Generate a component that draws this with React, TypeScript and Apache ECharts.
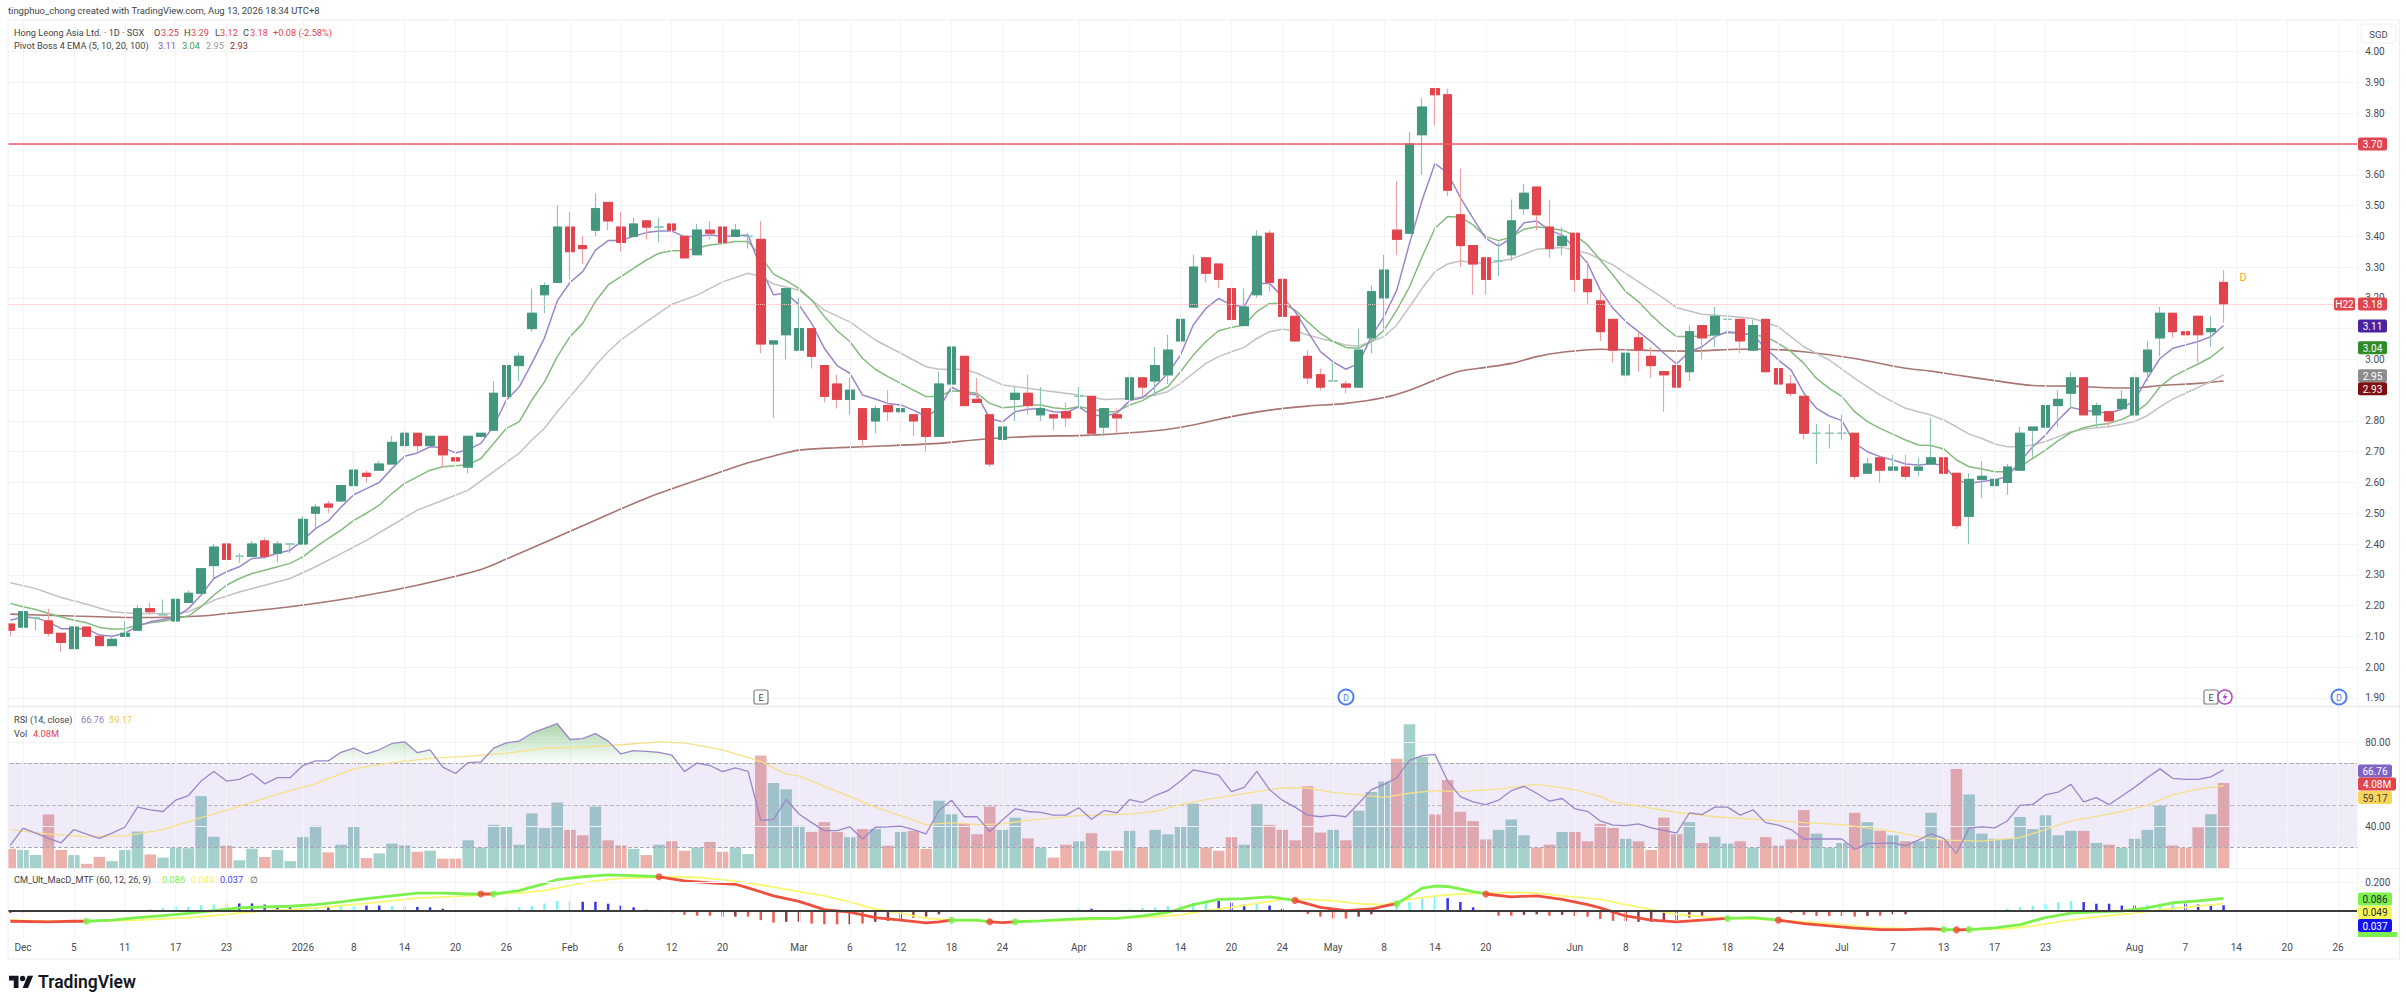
import React, { useEffect, useRef } from "react";
import * as echarts from "echarts";

const slotCount = 185;
const tickSlots = [1,5,9,13,17,23,27,31,35,39,44,48,52,56,62,66,70,74,78,84,88,92,96,100,104,108,112,116,123,127,131,135,139,144,148,152,156,160,167,171,175,179,183];
const tickLabels = ["Dec","5","11","17","23","2026","8","14","20","26","Feb","6","12","20","Mar","6","12","18","24","Apr","8","14","20","24","May","8","14","20","Jun","8","12","18","24","Jul","7","13","17","23","Aug","7","14","20","26"];

const opens = [
2.14,2.13,2.16,2.15,2.11,2.06,2.13,2.10,2.07,2.10,
2.12,2.19,2.17,2.15,2.21,2.24,2.33,2.40,2.36,2.36,
2.41,2.37,2.40,2.40,2.50,2.53,2.54,2.59,2.63,2.64,
2.66,2.72,2.76,2.72,2.75,2.68,2.65,2.75,2.77,2.88,
2.98,3.10,3.21,3.25,3.43,3.37,3.42,3.51,3.43,3.40,
3.45,3.43,3.44,3.40,3.34,3.42,3.43,3.40,3.40,3.39,
3.05,3.08,3.03,3.10,2.98,2.92,2.87,2.84,2.80,2.85,
2.83,2.82,2.84,2.75,2.92,3.01,2.87,2.82,2.74,2.87,
2.89,2.82,2.82,2.83,2.88,2.88,2.78,2.82,2.87,2.94,
2.93,2.95,3.06,3.17,3.33,3.31,3.23,3.11,3.21,3.41,
3.26,3.14,3.01,2.95,2.93,2.92,2.91,3.07,3.20,3.42,
3.41,3.73,3.88,3.86,3.47,3.37,3.33,3.32,3.34,3.49,
3.56,3.43,3.37,3.41,3.26,3.19,3.13,2.95,3.07,3.01,
2.96,2.98,2.96,3.11,3.08,3.13,3.13,3.03,3.13,2.97,
2.92,2.88,2.76,2.76,2.76,2.76,2.63,2.68,2.64,2.65,
2.64,2.66,2.68,2.63,2.49,2.61,2.59,2.60,2.64,2.77,
2.78,2.85,2.89,2.94,2.82,2.83,2.84,2.82,2.96,3.07,
3.15,3.09,3.14,3.09,3.25];
const closes = [
2.12,2.18,2.16,2.11,2.08,2.13,2.10,2.07,2.09,2.11,
2.19,2.18,2.17,2.22,2.24,2.32,2.39,2.35,2.36,2.40,
2.36,2.40,2.40,2.48,2.52,2.52,2.59,2.64,2.62,2.66,
2.73,2.76,2.72,2.75,2.69,2.67,2.75,2.76,2.89,2.98,
3.01,3.15,3.24,3.43,3.35,3.36,3.49,3.45,3.38,3.44,
3.43,3.43,3.42,3.33,3.42,3.41,3.38,3.42,3.40,3.05,
3.06,3.23,3.10,3.01,2.88,2.87,2.90,2.74,2.84,2.83,
2.84,2.80,2.75,2.92,3.04,2.85,2.86,2.66,2.78,2.89,
2.85,2.84,2.81,2.81,2.88,2.76,2.84,2.81,2.94,2.91,
2.98,3.03,3.13,3.30,3.28,3.26,3.13,3.17,3.40,3.25,
3.14,3.06,2.94,2.91,2.93,2.91,3.03,3.22,3.29,3.39,
3.70,3.82,3.86,3.55,3.37,3.31,3.26,3.32,3.45,3.54,
3.47,3.36,3.40,3.26,3.22,3.09,3.03,3.02,3.03,2.98,
2.95,2.91,3.09,3.07,3.14,3.13,3.06,3.11,2.96,2.92,
2.89,2.76,2.76,2.76,2.76,2.62,2.66,2.64,2.65,2.62,
2.65,2.68,2.63,2.46,2.61,2.62,2.61,2.65,2.76,2.78,
2.85,2.87,2.94,2.82,2.85,2.80,2.87,2.94,3.03,3.15,
3.09,3.08,3.08,3.10,3.18];
const lows = [
2.10,2.13,2.12,2.10,2.05,2.06,2.10,2.07,2.07,2.10,
2.12,2.17,2.17,2.15,2.21,2.24,2.29,2.34,2.34,2.36,
2.36,2.34,2.37,2.40,2.45,2.50,2.54,2.59,2.60,2.64,
2.66,2.68,2.70,2.72,2.65,2.66,2.63,2.75,2.77,2.88,
2.93,3.09,3.15,3.25,3.26,3.31,3.40,3.42,3.35,3.40,
3.39,3.38,3.37,3.33,3.34,3.39,3.38,3.40,3.36,3.02,
2.81,3.00,3.03,2.97,2.86,2.84,2.82,2.71,2.76,2.80,
2.76,2.75,2.70,2.75,2.84,2.85,2.86,2.65,2.67,2.80,
2.82,2.80,2.77,2.78,2.84,2.75,2.75,2.76,2.87,2.88,
2.88,2.92,3.04,3.17,3.25,3.23,3.11,3.11,3.20,3.22,
3.14,3.06,2.92,2.90,2.93,2.89,2.91,3.02,3.10,3.34,
3.41,3.60,3.76,3.53,3.30,3.21,3.21,3.27,3.32,3.47,
3.42,3.33,3.34,3.22,3.18,3.06,2.99,2.92,2.96,2.94,
2.83,2.86,2.93,3.00,3.04,3.08,3.02,3.03,2.96,2.90,
2.88,2.74,2.66,2.71,2.74,2.61,2.63,2.60,2.64,2.61,
2.62,2.66,2.63,2.45,2.40,2.55,2.54,2.56,2.64,2.68,
2.76,2.78,2.84,2.82,2.78,2.78,2.84,2.82,2.93,3.01,
3.07,3.05,2.99,3.04,3.12];
const highs = [
2.14,2.18,2.16,2.19,2.11,2.13,2.13,2.10,2.10,2.15,
2.20,2.21,2.22,2.23,2.25,2.32,2.40,2.40,2.37,2.41,
2.42,2.41,2.40,2.49,2.53,2.54,2.59,2.70,2.64,2.67,
2.75,2.78,2.76,2.75,2.75,2.69,2.75,2.76,2.93,2.98,
3.02,3.23,3.25,3.50,3.48,3.40,3.54,3.51,3.48,3.46,
3.45,3.46,3.44,3.40,3.44,3.45,3.43,3.44,3.41,3.45,
3.06,3.23,3.20,3.10,2.98,2.95,2.94,2.84,2.85,2.90,
2.86,2.82,2.84,2.96,3.04,3.01,2.94,2.82,2.81,2.91,
2.95,2.91,2.82,2.86,2.91,2.88,2.84,2.84,2.96,2.94,
3.04,3.08,3.17,3.34,3.33,3.31,3.26,3.23,3.42,3.42,
3.26,3.14,3.03,2.97,2.99,2.93,3.10,3.24,3.34,3.58,
3.74,3.85,3.88,3.88,3.62,3.37,3.33,3.38,3.52,3.57,
3.56,3.52,3.43,3.41,3.32,3.22,3.13,3.02,3.09,3.04,
2.96,3.03,3.11,3.11,3.17,3.16,3.13,3.13,3.13,3.00,
2.95,2.88,2.79,2.79,2.82,2.76,2.68,2.68,2.69,2.69,
2.68,2.81,2.71,2.63,2.63,2.67,2.61,2.66,2.78,2.78,
2.86,2.90,2.96,2.94,2.86,2.83,2.90,2.96,3.06,3.17,
3.15,3.11,3.14,3.14,3.29];

const ema5 = [
2.152,2.163,2.16,2.147,2.125,2.125,2.125,2.104,2.10,2.11,
2.133,2.147,2.155,2.163,2.19,2.234,2.288,2.31,2.326,2.353,
2.356,2.37,2.38,2.412,2.45,2.475,2.52,2.56,2.58,2.60,
2.645,2.685,2.696,2.716,2.714,2.696,2.707,2.727,2.783,2.868,
2.91,2.987,3.07,3.19,3.25,3.285,3.355,3.386,3.386,3.40,
3.412,3.417,3.417,3.399,3.40,3.404,3.40,3.402,3.404,3.296,
3.21,3.215,3.177,3.117,3.036,2.98,2.955,2.884,2.871,2.857,
2.852,2.835,2.814,2.84,2.91,2.89,2.884,2.808,2.797,2.83,
2.838,2.84,2.83,2.827,2.846,2.819,2.816,2.825,2.866,2.875,
2.911,2.955,3.014,3.112,3.166,3.198,3.177,3.171,3.247,3.247,
3.204,3.155,3.09,3.025,2.992,2.968,2.987,3.074,3.139,3.225,
3.377,3.518,3.637,3.605,3.526,3.458,3.393,3.368,3.393,3.444,
3.45,3.42,3.404,3.361,3.312,3.225,3.166,3.123,3.09,3.058,
3.02,2.985,3.025,3.041,3.074,3.09,3.085,3.079,3.036,2.998,
2.965,2.89,2.841,2.816,2.801,2.727,2.70,2.684,2.673,2.66,
2.657,2.66,2.657,2.608,2.597,2.603,2.608,2.619,2.668,2.716,
2.754,2.803,2.844,2.835,2.83,2.825,2.838,2.868,2.938,3.003,
3.036,3.047,3.058,3.074,3.11];
const ema10 = [
2.207,2.196,2.187,2.174,2.163,2.152,2.144,2.129,2.124,2.125,
2.136,2.144,2.149,2.158,2.166,2.196,2.234,2.266,2.288,2.304,
2.315,2.326,2.337,2.358,2.39,2.418,2.445,2.477,2.50,2.526,
2.564,2.597,2.618,2.64,2.651,2.654,2.658,2.678,2.727,2.776,
2.797,2.868,2.927,3.009,3.074,3.117,3.188,3.242,3.269,3.296,
3.323,3.345,3.353,3.353,3.361,3.372,3.377,3.383,3.383,3.334,
3.277,3.256,3.231,3.193,3.139,3.093,3.058,3.003,2.968,2.944,
2.922,2.90,2.879,2.879,2.898,2.895,2.89,2.857,2.843,2.846,
2.852,2.852,2.843,2.839,2.846,2.839,2.83,2.83,2.852,2.866,
2.89,2.911,2.96,3.014,3.058,3.093,3.104,3.112,3.155,3.182,
3.182,3.16,3.122,3.085,3.058,3.039,3.036,3.058,3.095,3.16,
3.236,3.334,3.426,3.464,3.462,3.437,3.399,3.386,3.397,3.423,
3.431,3.426,3.42,3.404,3.372,3.323,3.274,3.22,3.188,3.144,
3.106,3.074,3.074,3.076,3.079,3.087,3.085,3.079,3.074,3.052,
3.025,2.987,2.938,2.906,2.879,2.83,2.798,2.776,2.757,2.738,
2.722,2.72,2.709,2.673,2.651,2.644,2.635,2.635,2.651,2.678,
2.705,2.736,2.762,2.778,2.787,2.792,2.805,2.825,2.857,2.911,
2.944,2.965,2.985,3.007,3.04];
const ema20Points = [[0,2.274],[2,2.255],[4,2.226],[6,2.204],[8,2.18],[9,2.177],[10,2.174],[13,2.174],[14,2.18],[16,2.217],[18,2.244],[20,2.266],[22,2.288],[24,2.326],[26,2.369],[28,2.412],[30,2.461],[32,2.51],[34,2.542],[36,2.575],[38,2.635],[40,2.695],[41,2.738],[42,2.776],[43,2.83],[44,2.879],[45,2.927],[46,2.98],[47,3.025],[48,3.063],[50,3.122],[52,3.179],[54,3.209],[56,3.252],[58,3.28],[59,3.269],[60,3.245],[62,3.225],[64,3.16],[66,3.122],[68,3.063],[70,3.02],[72,2.976],[73,2.968],[75,2.968],[76,2.955],[78,2.917],[80,2.906],[82,2.895],[84,2.884],[86,2.87],[88,2.873],[90,2.884],[91,2.895],[92,2.922],[93,2.955],[94,2.987],[95,3.009],[96,3.025],[97,3.039],[98,3.068],[99,3.09],[100,3.098],[101,3.093],[102,3.079],[103,3.068],[104,3.058],[105,3.047],[106,3.043],[107,3.058],[108,3.074],[109,3.112],[110,3.171],[111,3.231],[112,3.285],[113,3.31],[114,3.32],[116,3.312],[118,3.326],[120,3.358],[122,3.364],[124,3.345],[126,3.307],[128,3.252],[130,3.198],[131,3.168],[133,3.147],[135,3.141],[137,3.133],[139,3.106],[141,3.041],[143,2.998],[145,2.938],[147,2.884],[149,2.841],[150,2.83],[151,2.819],[152,2.803],[153,2.781],[154,2.757],[155,2.743],[156,2.725],[157,2.716],[158,2.716],[159,2.722],[160,2.733],[161,2.749],[162,2.765],[163,2.773],[164,2.778],[165,2.781],[166,2.789],[167,2.798],[168,2.817],[169,2.846],[170,2.871],[171,2.89],[172,2.909],[173,2.928],[174,2.95]];
const ema100Points = [[0,2.172],[5,2.166],[10,2.161],[15,2.166],[17,2.174],[22,2.196],[27,2.226],[32,2.266],[37,2.317],[39,2.351],[45,2.459],[50,2.549],[55,2.622],[58,2.664],[59,2.675],[60,2.686],[62,2.705],[65,2.713],[67,2.716],[73,2.727],[76,2.739],[80,2.749],[85,2.754],[90,2.768],[93,2.787],[96,2.814],[99,2.835],[102,2.848],[105,2.857],[108,2.876],[110,2.9],[112,2.933],[114,2.962],[116,2.974],[118,2.987],[120,3.009],[122,3.023],[125,3.033],[128,3.03],[132,3.027],[136,3.033],[138,3.033],[141,3.025],[145,3.003],[149,2.971],[151,2.962],[153,2.949],[156,2.931],[159,2.915],[162,2.913],[165,2.908],[167,2.907],[169,2.915],[172,2.922],[174,2.93]];

const rsi = [
30.8,39,36.6,34.1,32,38.3,36.1,34.1,36.6,39.4,
49,47.7,46.9,52.3,54.5,61.4,66,61.4,62.2,65,
60.1,63,63,68.8,71,71,75.1,77.1,74.3,76.3,
79.3,80.1,74.9,76.3,68,65,70.2,70.5,77.1,79.6,
80.4,84.2,86.5,88.7,81.2,81.6,84,80.4,74.3,75.9,
75.5,75.1,73.8,65.9,70,68.8,65.9,67.7,66,42.7,
43.2,52.6,45.7,41.6,37.8,37.8,39.6,33.8,39.4,39.6,
39.9,38.3,36.3,47.4,52.3,44.4,44.5,37.4,42.9,48.2,
46.9,46.5,45.2,45.2,48.7,43.2,47.4,46.2,52.6,51.2,
54.5,56.8,61.4,66.7,65.5,64.2,56.4,58.4,66,57.3,
52.3,49,45.2,44.4,45.2,44.4,50.7,57.3,59.8,63,
71.3,73.5,74.1,61.4,54,51.5,50.2,52.3,56.8,58.9,
55.6,51.8,53.1,48.2,47,42.4,40.4,40.2,41,39.1,
37.9,36.6,46.2,45.4,49,49,45.2,47.7,41.6,40.4,
38.3,33.8,33.8,33.8,33.8,28.8,31.7,31.7,32,30.5,
33.3,36.3,34.1,27,39.1,39.6,39.1,42.4,49.8,50.3,
54.8,56.1,59.8,51.5,53.5,50.2,54.3,58.4,63,67.2,
62.7,62.2,62.2,63.4,66.76];
const rsiMaPoints = [[0,38.3],[3,36.1],[6,34.9],[9,35.3],[12,38.3],[15,44],[18,49.3],[21,55.1],[24,60.2],[27,67.2],[30,70.2],[33,72.2],[36,73.3],[39,74.6],[42,77.1],[45,77.6],[48,78.7],[51,80.1],[53,79.6],[56,76.3],[59,70.8],[61,64.7],[62,63.9],[64,58.9],[66,54],[68,49],[70,44.9],[72,40.7],[74,41.6],[76,40.7],[78,41],[80,42.7],[84,44.9],[88,45.7],[90,46.9],[92,50.2],[94,52.6],[96,54.5],[98,56.4],[100,58.1],[102,58.1],[104,56],[106,54.8],[108,53.6],[110,55.6],[112,56.8],[114,56.4],[117,57.6],[120,59.8],[123,57.3],[125,54],[126,51.5],[128,49.5],[131,46.5],[134,44.4],[138,42.9],[141,41.6],[144,40.7],[148,37.4],[150,34.9],[152,33.3],[155,32.8],[158,34.5],[160,38.3],[162,42.4],[165,45.7],[168,49.8],[170,54.8],[172,57.6],[174,59.17]];

const volumeM = [
0.92,0.87,0.62,2.57,0.87,0.62,0.20,0.53,0.33,0.87,
1.75,0.65,0.50,0.98,0.95,3.45,1.50,1.07,0.37,0.92,
0.53,0.87,0.33,1.48,2.03,0.75,1.12,1.98,0.48,0.70,
1.17,1.08,0.78,0.83,0.45,0.45,1.33,0.98,2.07,2.00,
1.12,2.62,1.92,3.15,1.83,1.57,2.95,1.33,1.08,0.92,
0.62,1.12,1.28,0.83,0.98,1.25,0.78,0.98,0.67,5.40,
4.08,3.78,2.03,1.73,2.20,1.73,1.48,1.87,1.87,1.07,
1.73,1.78,0.92,3.23,2.58,2.12,1.62,2.95,1.83,2.42,
1.42,0.98,0.50,1.12,1.28,1.67,0.83,0.83,1.78,1.00,
1.83,1.62,2.00,3.08,0.98,0.83,1.48,1.12,3.07,2.07,
1.83,1.33,3.92,1.70,1.83,1.33,2.75,3.65,4.15,5.25,
6.90,5.33,2.57,4.23,2.70,2.25,1.37,1.83,2.33,1.57,
0.98,1.12,1.73,1.73,1.28,2.12,1.92,1.40,1.28,0.87,
2.42,1.62,2.20,1.20,1.50,1.17,1.28,0.98,1.48,1.07,
1.37,2.78,1.65,0.98,1.20,2.65,2.20,1.78,1.57,1.28,
1.28,2.65,1.37,4.75,3.53,1.65,1.40,1.40,2.45,1.87,
2.53,1.57,1.78,1.78,1.20,1.12,0.98,1.40,1.83,2.98,
1.08,0.98,1.95,2.58,4.08];

const macdPoints = [[0,-.078],[3,-.082],[5,-.078],[6,-.078],[8,-.07],[10,-.052],[12,-.038],[14,-.022],[16,-.002],[18,.018],[20,.025],[22,.03],[24,.042],[26,.062],[28,.085],[30,.105],[32,.125],[34,.125],[36,.118],[37,.118],[38,.118],[40,.142],[42,.192],[43,.222],[45,.242],[47,.255],[49,.25],[51,.242],[53,.212],[55,.198],[57,.188],[58,.162],[60,.105],[62,.065],[64,.005],[66,-.012],[68,-.052],[70,-.07],[72,-.09],[73,-.082],[74,-.07],[76,-.07],[77,-.082],[78,-.088],[79,-.082],[81,-.075],[83,-.065],[85,-.058],[87,-.058],[89,-.04],[91,-.015],[93,.042],[95,.08],[97,.085],[99,.098],[101,.072],[103,.022],[105,-.002],[107,.01],[108,.03],[109,.048],[111,.16],[112,.175],[113,.172],[115,.135],[116,.118],[118,.098],[120,.105],[122,.08],[124,.042],[125,.018],[127,-.04],[129,-.07],[131,-.082],[133,-.07],[135,-.058],[137,-.052],[139,-.07],[141,-.095],[143,-.112],[145,-.128],[147,-.138],[149,-.138],[151,-.132],[152,-.138],[153,-.14],[154,-.138],[156,-.125],[158,-.102],[160,-.052],[162,-.02],[164,-.01],[166,-.005],[168,.018],[170,.055],[172,.068],[174,.086]];
const macdRisingRanges = [[6,37],[38,51],[74,77],[79,101],[109,116],[135,139],[152,153],[154,174]];
const macdFallingRanges = [[0,6],[37,38],[51,74],[77,79],[101,109],[116,135],[139,152],[153,154]];
const signalPoints = [[0,-.07],[5,-.082],[10,-.07],[14,-.052],[16,-.038],[18,-.02],[20,-.002],[22,.005],[24,.018],[28,.05],[32,.088],[36,.105],[38,.118],[40,.125],[42,.142],[44,.18],[46,.212],[48,.23],[52,.242],[54,.238],[56,.222],[58,.198],[60,.168],[62,.135],[64,.105],[66,.062],[68,.01],[70,-.02],[72,-.058],[74,-.07],[78,-.082],[82,-.075],[86,-.062],[90,-.045],[92,-.032],[94,-.002],[96,.022],[98,.05],[100,.08],[102,.08],[104,.068],[106,.048],[108,.042],[110,.08],[112,.105],[114,.118],[116,.125],[118,.13],[120,.125],[122,.105],[124,.088],[125,.08],[127,.042],[129,.005],[131,-.028],[133,-.045],[135,-.058],[137,-.062],[139,-.07],[141,-.082],[143,-.095],[145,-.112],[147,-.125],[149,-.132],[151,-.132],[153,-.138],[155,-.138],[157,-.132],[159,-.112],[161,-.082],[163,-.058],[165,-.038],[167,-.02],[169,.005],[171,.022],[174,.049]];
const crossUpSlots = [6,38,74,79,109,135,152,154];
const crossDownSlots = [37,51,77,101,116,139,153];
const histCyan = [[11,.01],[12,.018],[13,.025],[14,.025],[15,.038],[16,.042],[17,.05],[23,.03],[24,.025],[26,.03],[27,.03],[30,.03],[31,.03],[39,.012],[40,.022],[41,.03],[42,.05],[43,.068],[44,.068],[50,.01],[84,.012],[88,.012],[89,.018],[90,.022],[91,.03],[92,.042],[93,.055],[94,.062],[98,.048],[109,.035],[110,.06],[111,.085],[112,.11],[157,.012],[158,.022],[159,.035],[160,.048],[161,.06],[162,.068],[168,.038],[169,.05],[170,.055]];
const histBlue = [[18,.05],[19,.05],[20,.042],[21,.035],[22,.03],[25,.025],[28,.035],[29,.035],[32,.025],[33,.022],[34,.012],[45,.062],[46,.062],[47,.048],[48,.035],[49,.022],[85,.012],[95,.068],[96,.055],[97,.042],[99,.035],[100,.012],[113,.088],[114,.06],[115,.022],[163,.06],[164,.048],[165,.048],[166,.035],[167,.035],[171,.05],[172,.042],[173,.035],[174,.037]];
const histRed = [[0,-.02],[1,-.015],[2,-.012],[3,-.012],[4,-.012],[52,-.015],[53,-.032],[54,-.038],[55,-.038],[56,-.045],[58,-.045],[59,-.07],[60,-.088],[63,-.095],[64,-.1],[65,-.1],[67,-.095],[77,-.012],[102,-.025],[103,-.045],[104,-.058],[105,-.058],[116,-.008],[117,-.038],[118,-.038],[121,-.038],[123,-.04],[124,-.045],[125,-.062],[126,-.075],[127,-.078],[134,-.012],[140,-.018],[141,-.032],[142,-.04],[143,-.04],[144,-.04],[145,-.045],[147,-.038],[153,-.008]];
const histMaroon = [[57,-.045],[61,-.082],[62,-.082],[66,-.1],[68,-.082],[69,-.075],[70,-.07],[71,-.052],[72,-.045],[73,-.028],[78,-.012],[106,-.045],[107,-.028],[119,-.032],[120,-.028],[122,-.032],[128,-.082],[129,-.082],[130,-.075],[131,-.07],[132,-.052],[133,-.038],[146,-.04],[148,-.028],[149,-.028],[150,-.012]];

const UP = "#45967f", DOWN = "#e0454e", UP_WICK = "#8cc5b6", DOWN_WICK = "#f0a2a6";
const TEXT = "#4a4a55", FONT = "Roboto, 'Liberation Sans', sans-serif";

const LOGO = "M14 22H7V11H0V4h14v18ZM28 22h-8l7.5-18h8L28 22ZM20 4a4 4 0 1 0 0 8a4 4 0 1 0 0-8Z";
echarts.graphic.registerShape("tvlogo", echarts.graphic.extendPath(LOGO, {}));

const txt = (x: number, y: number, text: string, fill: string, fontSize = 9.2, extra: any = {}) => ({
  type: "text", x, y, z: 101,
  style: { text, fill, fontSize, fontFamily: FONT, verticalAlign: "middle", align: "left", ...extra },
});
const tag = (y: number, w: number, fill: string, text: string, color = "#ffffff", x = 2358, h = 13) => [
  { type: "rect", z: 100, shape: { x, y: y - h / 2, width: w, height: h, r: 2 }, style: { fill } },
  txt(x + w / 2, y + 0.5, text, color, 10, { align: "center" }),
];
const eBox = (cx: number) => [
  { type: "rect", z: 100, shape: { x: cx - 7, y: 690, width: 14, height: 14, r: 2 }, style: { fill: "#fff", stroke: "#808080", lineWidth: 1.2 } },
  txt(cx, 697.5, "E", "#444", 9, { align: "center" }),
];
const dCircle = (cx: number) => [
  { type: "circle", z: 100, shape: { cx, cy: 697, r: 7.5 }, style: { fill: "#fff", stroke: "#4f7df0", lineWidth: 2 } },
  txt(cx, 697.5, "D", "#4f7df0", 9, { align: "center" }),
];

export default function App() {
  const ref = useRef<HTMLDivElement>(null);
  useEffect(() => {
    document.body.style.margin = "0";
    const chart = echarts.init(ref.current!, undefined, { renderer: "svg" });
    const categories = Array.from({ length: slotCount }, (_, i) => {
      const p = tickSlots.indexOf(i);
      return p >= 0 ? tickLabels[p] : "";
    });
    const gridX = { left: 3.94, width: 2353.2 };
    const xAxisBase = { type: "category", data: categories, boundaryGap: true };
    const hiddenX = (gridIndex: number) => ({ ...xAxisBase, gridIndex, show: false });
    const quietLine = { symbol: "none", lineStyle: { opacity: 0 }, silent: true };
    const ohlc = opens.map((o, i) => [o, closes[i], lows[i], highs[i]]);
    const bodies = opens.map((o, i) => [o, closes[i], Math.min(o, closes[i]), Math.max(o, closes[i])]);
    const thin = (data: any, color: string, width = 1.5, z = 2, extra: any = {}) => ({
      type: "line", xAxisIndex: 1, yAxisIndex: 1, data, symbol: "none", z, silent: true,
      lineStyle: { color, width }, ...extra,
    });
    const inRange = (r: number[]) => macdPoints.filter((p) => p[0] >= r[0] && p[0] <= r[1]);
    const macdLine = (r: number[], color: string) => ({
      type: "line", xAxisIndex: 3, yAxisIndex: 4, data: inRange(r), symbol: "none", z: 5, silent: true,
      lineStyle: { color, width: 2.8 },
    });
    const histBars = (data: number[][], color: string) => ({
      type: "bar", xAxisIndex: 3, yAxisIndex: 4, data, barWidth: 2.5, barGap: "-100%", z: 2, silent: true,
      itemStyle: { color },
    });
    const macdAt = (k: number) => macdPoints.find((p) => p[0] === k) as number[];

    const g: any[] = [
      { type: "rect", z: 90, shape: { x: 0, y: 0, width: 8, height: 1004 }, style: { fill: "#fff" } },
      { type: "rect", z: 91, shape: { x: 8, y: 20, width: 2391.5, height: 939 }, style: { fill: "none", stroke: "#eceef2", lineWidth: 1 } },
      { type: "line", z: 91, shape: { x1: 8, y1: 706.5, x2: 2399.5, y2: 706.5 }, style: { stroke: "#eef0f4", lineWidth: 2 } },
      { type: "line", z: 91, shape: { x1: 8, y1: 868.5, x2: 2399.5, y2: 868.5 }, style: { stroke: "#f2f3f6", lineWidth: 1 } },
      { type: "line", z: 91, shape: { x1: 2358, y1: 20, x2: 2358, y2: 937 }, style: { stroke: "#f2f3f6", lineWidth: 1 } },
      txt(8, 10.5, "tingphuo_chong created with TradingView.com, Aug 13, 2026 18:34 UTC+8", "#444", 9.45),
      { type: "rect", z: 100, shape: { x: 2361, y: 24, width: 35, height: 19, r: 3 }, style: { fill: "#fff", stroke: "#eceef2", lineWidth: 1 } },
      txt(2378.5, 34, "SGD", TEXT, 9.5, { align: "center" }),
      txt(14, 32, "Hong Leong Asia Ltd. · 1D · SGX", "#444"),
      txt(154, 32, "O", "#444"), txt(161, 32, "3.25", DOWN),
      txt(184, 32, "H", "#444"), txt(191, 32, "3.29", DOWN),
      txt(215, 32, "L", "#444"), txt(220, 32, "3.12", DOWN),
      txt(243, 32, "C", "#444"), txt(250, 32, "3.18", DOWN),
      txt(273, 32, "+0.08 (-2.58%)", DOWN),
      txt(14, 45, "Pivot Boss 4 EMA (5, 10, 20, 100)", "#444"),
      txt(158, 45, "3.11", "#7e57c2"), txt(182, 45, "3.04", "#43a047"),
      txt(206, 45, "2.95", "#9a9a9a"), txt(230, 45, "2.93", "#8c2f2f"),
      txt(14, 719, "RSI (14, close)", "#444"),
      txt(81, 719, "66.76", "#8e7cc3"), txt(109, 719, "59.17", "#f0c850"),
      txt(14, 733, "Vol", "#444"), txt(33, 733, "4.08M", DOWN),
      txt(14, 879.5, "CM_Ult_MacD_MTF (60, 12, 26, 9)", "#444"),
      txt(162, 879.5, "0.086", "#7cf04c"), txt(191, 879.5, "0.049", "#f2f261"),
      txt(220, 879.5, "0.037", "#3f3ff0"), txt(250, 879.5, "∅", "#444"),
      ...tag(144, 29, "#e0454e", "3.70"),
      ...tag(304, 29, "#e0454e", "3.18"),
      ...tag(304, 21, "#e0454e", "H22", "#ffffff", 2334),
      ...tag(326, 29, "#4a21a0", "3.11"),
      ...tag(347.7, 29, "#2f8a27", "3.04"),
      ...tag(375.7, 29, "#8c8c8c", "2.95"),
      ...tag(388.7, 29, "#7d0f10", "2.93"),
      ...tag(771, 34, "#7e62c4", "66.76"),
      ...tag(784, 38, "#e0454e", "4.08M"),
      ...tag(797.5, 34, "#f7d65a", "59.17", "#444"),
      { type: "rect", z: 99, shape: { x: 2358, y: 932, width: 39, height: 5 }, style: { fill: "#7cf04c" } },
      ...tag(899, 34, "#7cf04c", "0.086", "#2a2a2a"),
      ...tag(912.4, 34, "#f7f75a", "0.049", "#2a2a2a"),
      ...tag(925.6, 34, "#1212ee", "0.037"),
      txt(2243, 277, "D", "#f5a623", 11, { align: "center" }),
      ...eBox(761), ...eBox(2211), ...dCircle(1346), ...dCircle(2339),
      { type: "circle", z: 100, shape: { cx: 2225, cy: 697, r: 7 }, style: { fill: "#fff", stroke: "#ab47bc", lineWidth: 1.5 } },
      { type: "polygon", z: 101, shape: { points: [[2226.5, 692], [2222.5, 698], [2225, 698], [2223.5, 702], [2227.5, 696], [2225, 696]] }, style: { fill: "#ab47bc" } },
      { type: "tvlogo", z: 100, x: 9, y: 973, scaleX: 0.68, scaleY: 0.68, style: { fill: "#131722" } },
      txt(38, 982, "TradingView", "#131722", 17.5, { fontWeight: 600 }),
    ];

    chart.setOption({
      animation: false,
      backgroundColor: "#fff",
      grid: [
        { ...gridX, top: 20, height: 917.4 },
        { ...gridX, top: 51.69, height: 646.17 },
        { ...gridX, top: 700, height: 168 },
        { ...gridX, top: 854.8, height: 83.4 },
      ],
      xAxis: [
        {
          ...xAxisBase, gridIndex: 0,
          axisLine: { show: false }, axisTick: { show: false }, splitLine: { show: false },
          axisLabel: {
            show: true, margin: 5, fontSize: 10, color: TEXT, fontFamily: FONT,
            interval: (i: number) => categories[i] !== "",
          },
        },
        hiddenX(1), hiddenX(2), hiddenX(3),
      ],
      yAxis: [
        { type: "value", gridIndex: 0, min: 0, max: 1, show: false, splitLine: { show: false } },
        {
          type: "value", gridIndex: 1, position: "right", min: 1.9, max: 4.0, interval: 0.1,
          axisLine: { show: false }, axisTick: { show: false },
          splitLine: { lineStyle: { color: "#f3f4f7", width: 1 } },
          axisLabel: { margin: 8, fontSize: 10, color: TEXT, fontFamily: FONT, formatter: (v: number) => v.toFixed(2) },
        },
        {
          type: "value", gridIndex: 2, position: "right", min: 20, max: 100, interval: 20,
          axisLine: { show: false }, axisTick: { show: false }, splitLine: { show: false },
          axisLabel: { margin: 8, fontSize: 10, color: TEXT, fontFamily: FONT, formatter: (v: number) => (v === 40 || v === 80 ? v.toFixed(2) : "") },
        },
        { type: "value", gridIndex: 2, position: "right", min: 0, max: 8.064, show: false, splitLine: { show: false } },
        {
          type: "value", gridIndex: 3, position: "right", min: -0.2, max: 0.4, interval: 0.2,
          axisLine: { show: false }, axisTick: { show: false }, splitLine: { show: false },
          axisLabel: { margin: 8, fontSize: 10, color: TEXT, fontFamily: FONT, formatter: (v: number) => (Math.abs(v - 0.2) < 1e-6 ? "0.200" : "") },
        },
      ],
      series: [
        {
          type: "line", xAxisIndex: 0, yAxisIndex: 0, ...quietLine, z: 1,
          data: tickSlots.map((k) => [k, 0]),
          markLine: {
            silent: true, symbol: "none", label: { show: false },
            lineStyle: { color: "#f3f4f7", width: 1, type: "solid" },
            data: tickSlots.map((k) => ({ xAxis: k })),
          },
        },
        thin(ema100Points, "#a87572", 1.6, 2, { smooth: 0.3 }),
        thin(ema20Points, "#c2c2c2", 1.5, 2),
        thin(ema10.map((v, i) => [i, v]), "#85bb7f", 1.5, 2),
        thin(ema5.map((v, i) => [i, v]), "#9b86c9", 1.5, 2),
        {
          type: "candlestick", xAxisIndex: 1, yAxisIndex: 1, data: ohlc, barWidth: 9, z: 3, silent: true,
          itemStyle: { color: UP_WICK, color0: DOWN_WICK, borderColor: UP_WICK, borderColor0: DOWN_WICK, borderColorDoji: UP_WICK, borderWidth: 1.2 },
        },
        {
          type: "candlestick", xAxisIndex: 1, yAxisIndex: 1, data: bodies, barWidth: 9, z: 4, silent: true,
          itemStyle: { color: UP, color0: DOWN, borderColor: UP, borderColor0: DOWN, borderColorDoji: UP_WICK, borderWidth: 1 },
        },
        {
          type: "line", xAxisIndex: 1, yAxisIndex: 1, ...quietLine, z: 5,
          data: ema100Points,
          markLine: {
            silent: true, symbol: "none", label: { show: false },
            data: [
              { yAxis: 3.7, lineStyle: { color: "#ec5a60", width: 1.5, type: "solid" } },
              { yAxis: 3.18, lineStyle: { color: "#f7c3c6", width: 1, type: "dotted" } },
            ],
          },
        },
        {
          type: "bar", xAxisIndex: 2, yAxisIndex: 3, barWidth: 11.5, z: 1, silent: true,
          data: volumeM.map((v, i) => ({
            value: v,
            itemStyle: { color: closes[i] < opens[i] ? "rgba(210,70,55,0.42)" : "rgba(38,145,130,0.42)" },
          })),
        },
        {
          type: "line", xAxisIndex: 2, yAxisIndex: 2, ...quietLine, z: 2,
          data: rsi.map((v, i) => [i, v]),
          markArea: { silent: true, z: 3, itemStyle: { color: "rgba(126,87,194,0.12)" }, data: [[{ yAxis: 30 }, { yAxis: 70 }]] },
          markLine: {
            silent: true, symbol: "none", label: { show: false }, z: 4,
            data: [
              { yAxis: 70, lineStyle: { color: "#a8a8b0", width: 1, type: "dashed" } },
              { yAxis: 50, lineStyle: { color: "#b8b8c0", width: 1, type: "dashed" } },
              { yAxis: 30, lineStyle: { color: "#a8a8b0", width: 1, type: "dashed" } },
              { yAxis: 80, lineStyle: { color: "#f3f4f7", width: 1, type: "solid" } },
              { yAxis: 40, lineStyle: { color: "#f0eef7", width: 1, type: "solid" } },
            ],
          },
        },
        {
          type: "line", xAxisIndex: 2, yAxisIndex: 2, symbol: "none", silent: true, z: 5,
          data: rsi.map((v, i) => [i, Math.max(v, 70)]),
          lineStyle: { opacity: 0 },
          areaStyle: {
            origin: 70,
            color: new echarts.graphic.LinearGradient(0, 0, 0, 1, [
              { offset: 0, color: "rgba(76,160,70,0.65)" },
              { offset: 1, color: "rgba(76,175,80,0.03)" },
            ]),
          },
        },
        {
          type: "line", xAxisIndex: 2, yAxisIndex: 2, symbol: "none", silent: true, z: 6,
          data: rsiMaPoints, lineStyle: { color: "#f6e08a", width: 1.3 },
        },
        {
          type: "line", xAxisIndex: 2, yAxisIndex: 2, symbol: "none", silent: true, z: 7,
          data: rsi.map((v, i) => [i, v]), lineStyle: { color: "#9b86c9", width: 1.3 },
        },
        histBars(histCyan, "#7ff3f5"),
        histBars(histBlue, "#3535ee"),
        histBars(histRed, "#ee5a52"),
        histBars(histMaroon, "#8a4040"),
        {
          type: "line", xAxisIndex: 3, yAxisIndex: 4, data: signalPoints, symbol: "none", z: 4, silent: true,
          lineStyle: { color: "#f8f86e", width: 1.8 },
        },
        ...macdRisingRanges.map((r) => macdLine(r, "#7cf04c")),
        ...macdFallingRanges.map((r) => macdLine(r, "#ee5040")),
        {
          type: "scatter", xAxisIndex: 3, yAxisIndex: 4, symbolSize: 7, z: 6, silent: true,
          data: crossUpSlots.map(macdAt), itemStyle: { color: "#7cf04c" },
        },
        {
          type: "scatter", xAxisIndex: 3, yAxisIndex: 4, symbolSize: 7, z: 6, silent: true,
          data: crossDownSlots.map(macdAt), itemStyle: { color: "#ee4a36" },
        },
        {
          type: "line", xAxisIndex: 3, yAxisIndex: 4, ...quietLine, z: 7,
          data: macdPoints,
          markLine: {
            silent: true, symbol: "none", label: { show: false }, z: 7,
            data: [
              { yAxis: 0, lineStyle: { color: "#3c3c3c", width: 2, type: "solid" } },
              { yAxis: 0.2, lineStyle: { color: "#f3f4f7", width: 1, type: "solid" } },
            ],
          },
        },
      ],
      graphic: { elements: g },
    });
    return () => chart.dispose();
  }, []);
  return <div ref={ref} style={{ position: "fixed", left: 0, top: 0, width: 2406, height: 1004, background: "#fff" }} />;
}
